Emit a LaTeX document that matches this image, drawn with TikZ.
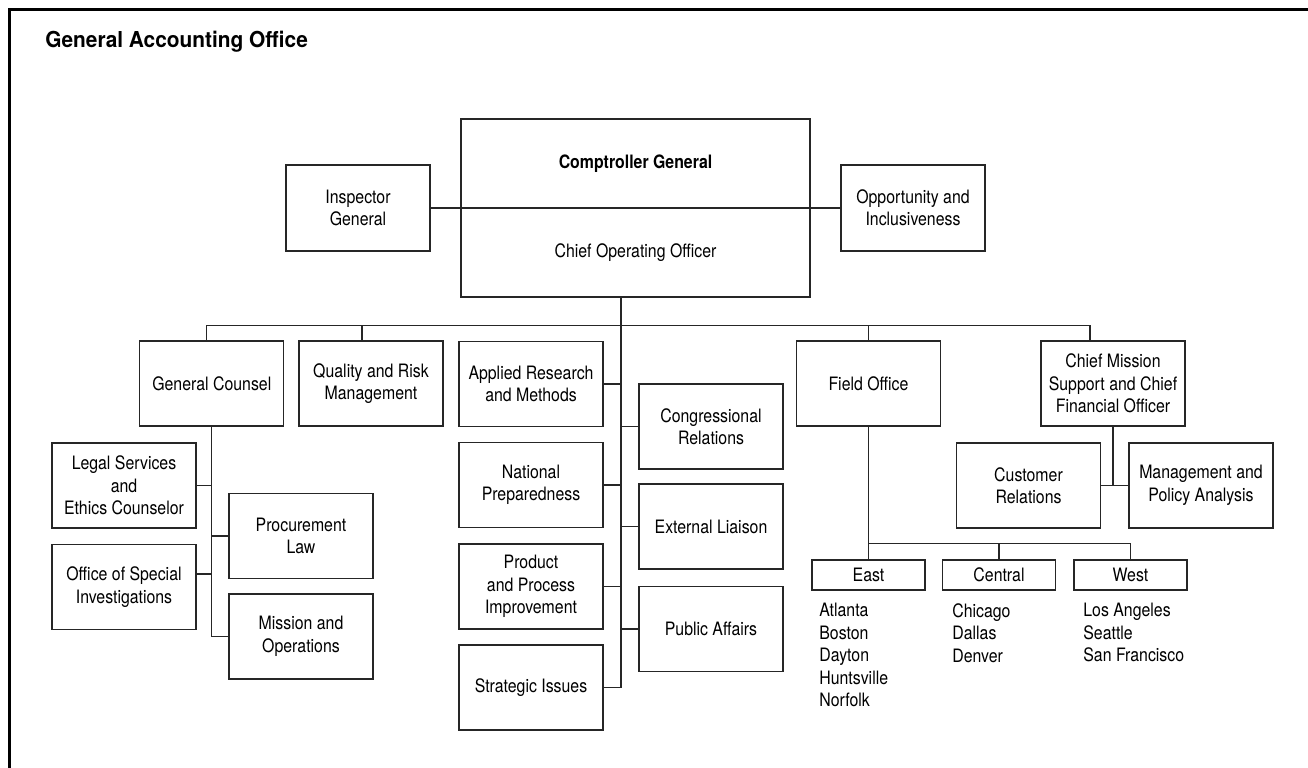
\documentclass[tikz,border=0pt]{standalone}
\usepackage{fontspec}
\setmainfont{TeX Gyre Heros}[FakeStretch=0.86]
\newfontfamily\titlefont{TeX Gyre Heros}[FakeStretch=0.95]
\usepackage{tikz}
\usetikzlibrary{positioning}

\tikzset{
  unit/.style={draw=black!85, line width=0.7pt, align=center, inner sep=2pt,
    minimum width=28.8mm, minimum height=17mm, font=\fontsize{10.5}{12.8}\selectfont},
  region/.style={unit, minimum width=22.6mm, minimum height=6mm},
  cities/.style={anchor=north west, align=left, inner sep=0pt, font=\fontsize{10.5}{12.8}\selectfont},
  link/.style={draw=black!85, line width=0.7pt},
}

\begin{document}
\begin{tikzpicture}[x=0.2mm, y=-0.2mm]
\useasboundingbox (0,0) rectangle (1308,768);
\draw[line width=0.48mm] (9.5,768) -- (9.5,9.5) -- (1308,9.5);
\node[anchor=base west, inner sep=0pt, font=\titlefont\bfseries\fontsize{12.5}{15}\selectfont] (title) at (45,48) {General Accounting Office};

% top of the office
\node[unit, minimum width=69.8mm, minimum height=17.8mm] (cg) at (635.5,163.5) {\textbf{Comptroller General}};
\node[unit, minimum width=69.8mm, minimum height=17.8mm] (coo) at (635.5,252.5) {Chief Operating Officer};
\node[unit, minimum height=17.2mm] (ig) at (358,208) {Inspector\\General};
\node[unit, minimum height=17.2mm] (oi) at (913,208) {Opportunity and\\Inclusiveness};
\draw[link] (ig.east) -- (oi.west);

\coordinate (trunk) at ([xshift=-2.9mm]coo.south);
\coordinate (bus) at ([yshift=-5.6mm]trunk);

% units under the COO
\node[unit] (gc) at (211.8,383.5) {General Counsel};
\node[unit] (qrm) at (371,383.5) {Quality and Risk\\Management};
\node[unit] (arm) at (531,384) {Applied Research\\and Methods};
\node[unit] (np) at (531,485) {National\\Preparedness};
\node[unit] (ppi) at (531,586.5) {Product\\and Process\\Improvement};
\node[unit] (si) at (531,687.5) {Strategic Issues};
\node[unit] (cr) at (711,426.5) {Congressional\\Relations};
\node[unit] (el) at (711,526.5) {External Liaison};
\node[unit] (pa) at (711,629) {Public Affairs};
\node[unit] (fo) at (868.5,383.5) {Field Office};
\node[unit] (cmo) at (1113,383.5) {Chief Mission\\Support and Chief\\Financial Officer};
\node[unit] (cust) at (1028.5,485.5) {Customer\\Relations};
\node[unit] (mpa) at (1201,485.5) {Management and\\Policy Analysis};

% general counsel offices
\node[unit] (ls) at (124,485.5) {Legal Services\\and\\Ethics Counselor};
\node[unit] (osi) at (124,587) {Office of Special\\Investigations};
\node[unit] (pl) at (301,536) {Procurement\\Law};
\node[unit] (mo) at (301,636.5) {Mission and\\Operations};

% field regions
\node[region] (east) at (868.5,575) {East};
\node[region] (cen) at (999,575) {Central};
\node[region] (west) at (1130.5,575) {West};
\node[cities] (eastc) at (819,603) {Atlanta\\Boston\\Dayton\\Huntsville\\Norfolk};
\node[cities] (cenc) at (952,603) {Chicago\\Dallas\\Denver};
\node[cities] (westc) at (1083,603) {Los Angeles\\Seattle\\San Francisco};

% connectors
\draw[link] (trunk) -- (trunk |- si.east);
\draw[link] ([xshift=-1mm]gc.north) |- (bus) -| ([xshift=-4.6mm]cmo.north);
\draw[link] ([xshift=-1.8mm]qrm.north) |- (bus);
\draw[link] (fo.north) |- (bus);
\foreach \n in {arm,np,ppi,si} \draw[link] (\n.east) -- (\n.east -| trunk);
\foreach \n in {cr,el,pa} \draw[link] (\n.west) -- (\n.west -| trunk);

\draw[link] (gc.south) |- (mo.west);
\draw[link] (ls.east) -- (ls.east -| gc.south);
\draw[link] ([yshift=2.6mm]osi.east) -- ([yshift=2.6mm]osi.east -| gc.south);
\draw[link] (pl.west) -- (pl.west -| gc.south);

\coordinate (fbus) at ([yshift=3.2mm]east.north);
\draw[link] (fo.south) -- (east.north);
\draw[link] (fbus) -| (west.north);
\draw[link] (fbus -| cen.north) -- (cen.north);

\draw[link] (cmo.south) -- (cmo.south |- cust.east);
\draw[link] (cust.east) -- (mpa.west);
\end{tikzpicture}
\end{document}
